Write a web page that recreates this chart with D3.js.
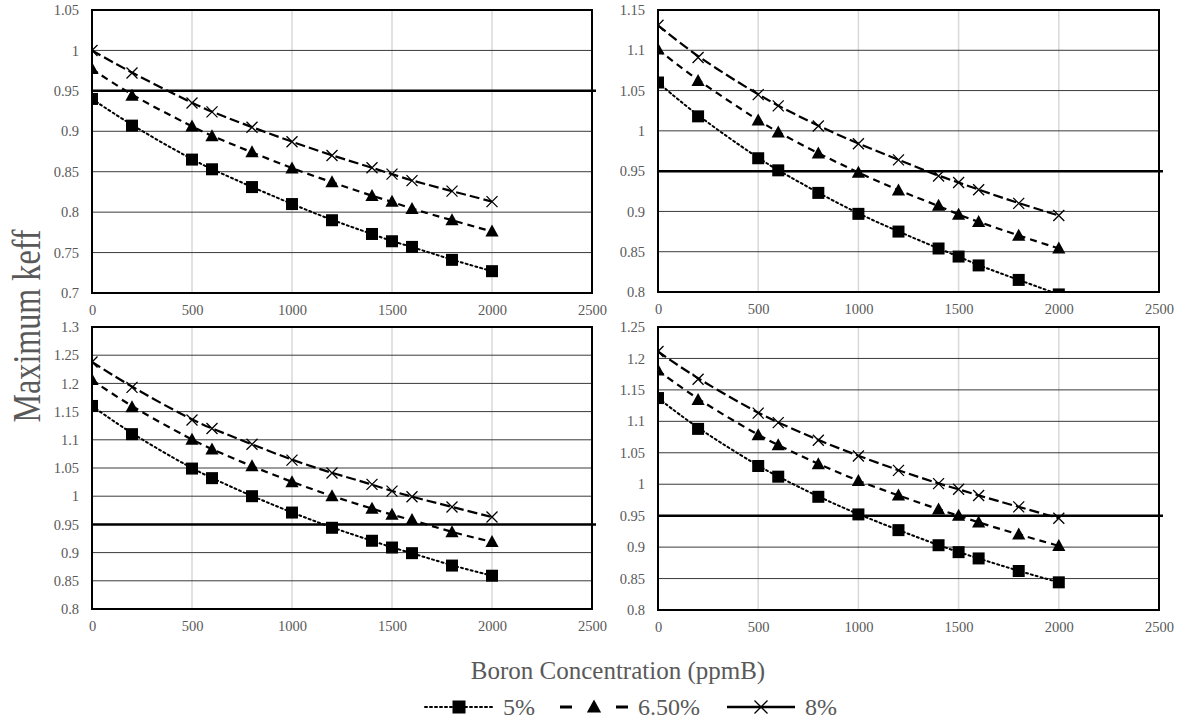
<!DOCTYPE html>
<html><head><meta charset="utf-8">
<script src="https://cdn.jsdelivr.net/npm/d3@7"></script>
<style>html,body{margin:0;padding:0;background:#fff;}svg{display:block;}</style>
</head><body>
<svg id="c" width="1178" height="719"></svg>
<script>
const boron = [0, 200, 500, 600, 800, 1000, 1200, 1400, 1500, 1600, 1800, 2000];
const seriesNames = ["5%", "6.50%", "8%"];
const xTicks = [0, 500, 1000, 1500, 2000, 2500];

// Panel A (top-left)
const a5  = [0.940, 0.907, 0.865, 0.853, 0.831, 0.810, 0.790, 0.773, 0.764, 0.757, 0.741, 0.727];
const a65 = [0.977, 0.944, 0.906, 0.894, 0.874, 0.854, 0.837, 0.820, 0.813, 0.804, 0.790, 0.776];
const a8  = [1.000, 0.972, 0.935, 0.924, 0.905, 0.887, 0.870, 0.855, 0.847, 0.839, 0.826, 0.813];
const aTicks = [0.7, 0.75, 0.8, 0.85, 0.9, 0.95, 1, 1.05];
// Panel B (top-right)
const b5  = [1.060, 1.018, 0.966, 0.951, 0.923, 0.897, 0.875, 0.854, 0.844, 0.833, 0.815, 0.797];
const b65 = [1.101, 1.062, 1.013, 0.998, 0.972, 0.948, 0.926, 0.907, 0.896, 0.887, 0.870, 0.854];
const b8  = [1.131, 1.091, 1.045, 1.031, 1.006, 0.984, 0.964, 0.944, 0.936, 0.927, 0.910, 0.895];
const bTicks = [0.8, 0.85, 0.9, 0.95, 1, 1.05, 1.1, 1.15];
// Panel C (bottom-left)
const c5  = [1.160, 1.110, 1.049, 1.032, 1.000, 0.971, 0.944, 0.921, 0.909, 0.899, 0.877, 0.859];
const c65 = [1.206, 1.158, 1.100, 1.083, 1.053, 1.025, 1.000, 0.978, 0.967, 0.958, 0.936, 0.919];
const c8  = [1.238, 1.193, 1.135, 1.120, 1.092, 1.064, 1.041, 1.021, 1.009, 0.999, 0.981, 0.963];
const cTicks = [0.8, 0.85, 0.9, 0.95, 1, 1.05, 1.1, 1.15, 1.2, 1.25, 1.3];
// Panel D (bottom-right)
const d5  = [1.137, 1.088, 1.029, 1.012, 0.980, 0.952, 0.927, 0.903, 0.892, 0.882, 0.862, 0.844];
const d65 = [1.181, 1.134, 1.078, 1.062, 1.032, 1.005, 0.982, 0.960, 0.950, 0.939, 0.920, 0.902];
const d8  = [1.211, 1.167, 1.113, 1.098, 1.070, 1.045, 1.022, 1.001, 0.992, 0.982, 0.964, 0.946];
const dTicks = [0.8, 0.85, 0.9, 0.95, 1, 1.05, 1.1, 1.15, 1.2, 1.25];

const limitValue = 0.95;

const panels = [
  {box:{l:92, t:10, r:592, b:293}, ticks:aTicks, s:[a5,a65,a8]},
  {box:{l:658, t:10, r:1159, b:292}, ticks:bTicks, s:[b5,b65,b8]},
  {box:{l:92, t:327, r:592, b:609}, ticks:cTicks, s:[c5,c65,c8]},
  {box:{l:658, t:327, r:1159, b:610}, ticks:dTicks, s:[d5,d65,d8]}
];

const dashes = ["2,3", "7,5", "10,4"];
const tickColor = "#595959";
const fontSerif = '"Liberation Serif","Times New Roman","Noto Serif","Noto Serif CJK SC","DejaVu Serif",FreeSerif,"Nimbus Roman",Tinos,Georgia,Times,serif';

const svg = d3.select("#c");

function drawMarker(g, kind, cx, cy, size) {
  if (kind === 0) {
    g.append("rect").attr("x", cx - size/2).attr("y", cy - size/2)
      .attr("width", size).attr("height", size).attr("fill", "#000");
  } else if (kind === 1) {
    const h = size;
    g.append("path").attr("d", `M${cx},${cy - h*0.58}L${cx + h*0.55},${cy + h*0.42}L${cx - h*0.55},${cy + h*0.42}Z`)
      .attr("fill", "#000");
  } else {
    const r = size/2;
    g.append("path").attr("d", `M${cx-r},${cy-r}L${cx+r},${cy+r}M${cx-r},${cy+r}L${cx+r},${cy-r}`)
      .attr("stroke", "#000").attr("stroke-width", 1.3).attr("fill", "none");
  }
}

panels.forEach((p, i) => {
  const {l, t, r, b} = p.box;
  const x = d3.scaleLinear().domain([0, 2500]).range([l, r]);
  const y = d3.scaleLinear().domain([p.ticks[0], p.ticks[p.ticks.length-1]]).range([b, t]);
  const g = svg.append("g");

  g.append("g").selectAll("line").data(xTicks.slice(1, -1)).join("line")
    .attr("x1", d => x(d)).attr("x2", d => x(d)).attr("y1", t).attr("y2", b)
    .attr("stroke", "#d9d9d9").attr("stroke-width", 1.5);
  g.append("g").selectAll("line").data(p.ticks.slice(1, -1)).join("line")
    .attr("x1", l).attr("x2", r).attr("y1", d => y(d)).attr("y2", d => y(d))
    .attr("stroke", "#3a3a3a").attr("stroke-width", 1);

  const yAxis = d3.axisLeft(y).tickValues(p.ticks).tickSize(0).tickPadding(13)
    .tickFormat(d => d3.format("")(+d.toFixed(2)));
  const ya = g.append("g").attr("transform", `translate(${l},0)`).call(yAxis);
  ya.attr("font-family", fontSerif).attr("font-size", 14.5);
  ya.select(".domain").remove();
  ya.selectAll("text").attr("fill", tickColor);

  const xAxis = d3.axisBottom(x).tickValues(xTicks).tickSize(0).tickPadding(12).tickFormat(d3.format("d"));
  const xa = g.append("g").attr("transform", `translate(0,${b})`).call(xAxis);
  xa.attr("font-family", fontSerif).attr("font-size", 14.5);
  xa.select(".domain").remove();
  xa.selectAll("text").attr("fill", tickColor);

  const cid = "clip" + i;
  svg.append("clipPath").attr("id", cid).append("rect")
    .attr("x", l).attr("y", t).attr("width", r - l).attr("height", b - t);

  g.append("line").attr("x1", x(0) - 1).attr("x2", x(2500) + 4)
    .attr("y1", y(limitValue)).attr("y2", y(limitValue))
    .attr("stroke", "#000").attr("stroke-width", 2.5);

  const sg = g.append("g").attr("clip-path", `url(#${cid})`);
  const line = d3.line().x(d => x(d[0])).y(d => y(d[1])).curve(d3.curveBasis);
  p.s.forEach((vals, k) => {
    const pts = boron.map((bv, j) => [bv, vals[j]]);
    sg.append("path").attr("d", line(pts)).attr("fill", "none")
      .attr("stroke", "#000").attr("stroke-width", k === 0 ? 2 : 2.2)
      .attr("stroke-dasharray", dashes[k])
      .attr("stroke-linecap", k === 0 ? "round" : "butt");
  });
  p.s.forEach((vals, k) => {
    boron.forEach((bv, j) => {
      drawMarker(sg, k, x(bv), y(vals[j]), k === 2 ? 11 : 12);
    });
  });

  g.append("rect").attr("x", l).attr("y", t).attr("width", r - l).attr("height", b - t)
    .attr("fill", "none").attr("stroke", "#000").attr("stroke-width", 2);
});

svg.append("text").attr("transform", "translate(40,326) rotate(-90)")
  .attr("text-anchor", "middle").attr("fill", "#595959")
  .attr("textLength", 193).attr("lengthAdjust", "spacingAndGlyphs")
  .attr("font-family", fontSerif).attr("font-size", 40).text("Maximum keff");

svg.append("text").attr("x", 618).attr("y", 679).attr("text-anchor", "middle")
  .attr("fill", "#595959").attr("font-family", fontSerif).attr("font-size", 25)
  .text("Boron Concentration (ppmB)");

const legendX = [425, 560, 727];
const lg = svg.append("g");
seriesNames.forEach((name, k) => {
  const x0 = legendX[k], x1 = x0 + 68, cy = 707;
  if (k === 1) {
    lg.append("line").attr("x1", x0).attr("x2", x0 + 12).attr("y1", cy).attr("y2", cy).attr("stroke", "#000").attr("stroke-width", 3);
    lg.append("line").attr("x1", x1 - 12).attr("x2", x1).attr("y1", cy).attr("y2", cy).attr("stroke", "#000").attr("stroke-width", 3);
  } else {
    lg.append("line").attr("x1", x0).attr("x2", x1).attr("y1", cy).attr("y2", cy)
      .attr("stroke", "#000").attr("stroke-width", k === 0 ? 2 : 2.5)
      .attr("stroke-dasharray", k === 0 ? "2,3" : null)
      .attr("stroke-linecap", k === 0 ? "round" : "butt");
  }
  drawMarker(lg, k, (x0 + x1) / 2, cy, 13);
  lg.append("text").attr("x", x1 + 10).attr("y", cy + 8).attr("fill", "#595959")
    .attr("font-family", fontSerif).attr("font-size", 24).text(name);
});
</script>
</body></html>
